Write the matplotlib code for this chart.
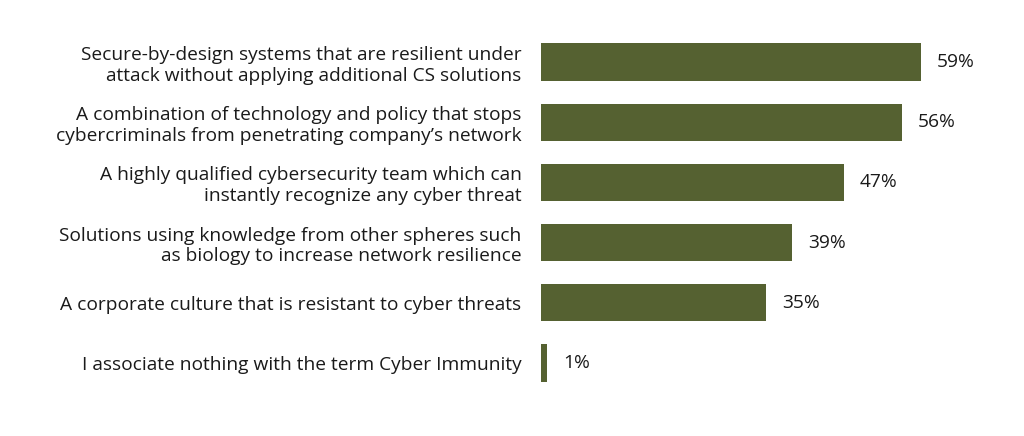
import numpy as np
import matplotlib.pyplot as plt

labels = [
    "Secure-by-design systems that are resilient under\nattack without applying additional CS solutions",
    "A combination of technology and policy that stops\ncybercriminals from penetrating company\u2019s network",
    "A highly qualified cybersecurity team which can\ninstantly recognize any cyber threat",
    "Solutions using knowledge from other spheres such\nas biology to increase network resilience",
    "A corporate culture that is resistant to cyber threats",
    "I associate nothing with the term Cyber Immunity",
]
values = [59, 56, 47, 39, 35, 1]

plt.rcParams['font.family'] = ['Open Sans', 'DejaVu Sans']

fig = plt.figure(figsize=(10.24, 4.36), dpi=100)
ax = fig.add_axes([541 / 1024, 1 - 393 / 436, (1000 - 541) / 1024, (393 - 32) / 436])

y = np.arange(len(values))
ax.barh(y, values, height=0.62, color='#556131')
ax.set_xlim(0, 71.3)
ax.set_ylim(5.5, -0.5)

for yi, v in zip(y, values):
    ax.annotate(f"{v}%", (v, yi), xytext=(11.5, 0), textcoords='offset points',
                va='center', ha='left', fontsize=13.8, color='#1a1a1a')

ax.set_yticks(y)
ax.set_yticklabels(labels, fontsize=13.8, color='#1a1a1a', linespacing=1.2)
ax.tick_params(axis='y', length=0, pad=14)
ax.set_xticks([])
for s in ax.spines.values():
    s.set_visible(False)

fig.savefig('out.png', dpi=100)
